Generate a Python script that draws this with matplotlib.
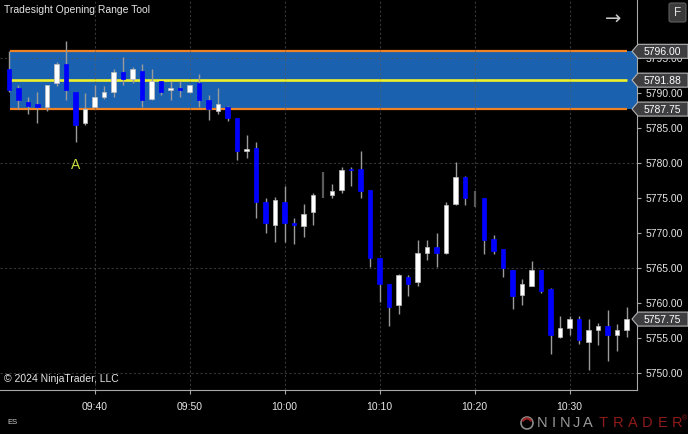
import numpy as np
import pandas as pd
import matplotlib
matplotlib.use('Agg')
import matplotlib.pyplot as plt
from matplotlib.patches import Polygon, FancyBboxPatch, Circle, Arc

plt.rcParams['font.family'] = ['Liberation Sans', 'DejaVu Sans']

# ── Data: 1-minute ES bars, 09:31 .. 10:36 ────────────────────────────────────
opens = [5793.5, 5790.75, 5788.75, 5788.5, 5788.0, 5791.5, 5794.25, 5790.25, 5785.75, 5788.0,
         5789.5, 5790.25, 5793.0, 5792.0, 5793.25, 5789.25, 5791.75, 5790.5, 5790.75, 5790.25,
         5791.5, 5789.0, 5787.5, 5788.0, 5786.5, 5781.75, 5782.25, 5774.5, 5771.25, 5774.5,
         5771.5, 5771.0, 5773.0, 5777.0, 5775.5, 5776.25, 5779.25, 5779.25, 5776.25, 5766.5,
         5762.75, 5759.75, 5763.75, 5763.0, 5767.25, 5768.0, 5767.25, 5774.25, 5778.0, 5775.0,
         5775.0, 5769.25, 5767.75, 5764.75, 5761.25, 5762.5, 5764.75, 5762.0, 5755.25, 5756.5,
         5757.75, 5754.5, 5756.25, 5756.75, 5755.5, 5756.25]
highs = [5796.0, 5791.25, 5789.5, 5790.25, 5791.25, 5794.5, 5797.5, 5790.25, 5790.0, 5791.25,
         5791.0, 5793.5, 5795.25, 5793.75, 5794.25, 5793.5, 5791.75, 5791.75, 5791.75, 5791.25,
         5792.75, 5789.75, 5790.75, 5788.25, 5786.5, 5784.0, 5783.0, 5775.0, 5775.25, 5776.75,
         5772.25, 5774.25, 5775.75, 5778.75, 5777.0, 5779.5, 5779.5, 5781.75, 5776.25, 5766.5,
         5762.75, 5764.25, 5764.0, 5769.0, 5769.0, 5770.0, 5774.5, 5780.25, 5778.25, 5776.0,
         5775.0, 5769.75, 5767.75, 5764.75, 5763.5, 5766.0, 5764.75, 5762.25, 5758.25, 5758.25,
         5758.25, 5757.75, 5757.25, 5759.0, 5757.0, 5759.5]
lows = [5790.25, 5787.75, 5787.0, 5785.75, 5787.5, 5791.0, 5789.0, 5783.0, 5785.5, 5788.0,
        5789.25, 5789.5, 5791.25, 5791.5, 5788.0, 5789.0, 5789.75, 5789.0, 5789.5, 5790.0,
        5788.0, 5786.25, 5787.0, 5786.0, 5780.5, 5780.75, 5772.25, 5770.0, 5768.75, 5768.75,
        5768.5, 5769.5, 5771.25, 5775.0, 5775.0, 5775.75, 5776.75, 5775.0, 5765.25, 5760.25,
        5756.75, 5758.5, 5761.0, 5762.5, 5766.25, 5765.25, 5767.0, 5774.0, 5774.0, 5773.75,
        5767.0, 5767.0, 5763.75, 5759.25, 5759.75, 5762.5, 5761.5, 5752.75, 5755.0, 5755.5,
        5754.25, 5750.5, 5754.0, 5751.75, 5753.25, 5755.25]
closes = [5790.5, 5789.0, 5788.25, 5788.0, 5791.25, 5794.25, 5790.5, 5785.5, 5787.75, 5789.5,
          5790.25, 5793.0, 5792.0, 5793.5, 5789.0, 5791.75, 5790.25, 5790.75, 5790.5, 5791.25,
          5789.0, 5787.75, 5788.5, 5786.5, 5781.75, 5782.0, 5774.5, 5771.5, 5774.75, 5771.5,
          5771.25, 5772.75, 5775.5, 5777.0, 5776.0, 5779.0, 5779.0, 5776.0, 5766.5, 5762.75,
          5759.5, 5764.0, 5762.75, 5767.25, 5768.0, 5767.25, 5774.0, 5778.0, 5775.0, 5775.0,
          5769.0, 5767.5, 5765.0, 5761.0, 5762.75, 5764.75, 5761.75, 5755.5, 5756.5, 5757.75,
          5754.75, 5756.25, 5756.75, 5755.5, 5756.25, 5757.75]

OR_HIGH, OR_MID, OR_LOW = 5796.00, 5791.88, 5787.75
LAST_PRICE = closes[-1]
SIGNAL_BAR, SIGNAL_TEXT = 7, 'A'
Y_TICKS = [5750, 5755, 5760, 5765, 5770, 5775, 5780, 5785, 5790, 5795]
GRID_PRICES = [5750, 5765, 5780, 5795]

bar_times = pd.date_range('2024-01-02 09:31', periods=len(opens), freq='min')
xt = [i for i, t in enumerate(bar_times) if t.minute % 10 == 0]
xt_labels = [bar_times[i].strftime('%H:%M') for i in xt]

# ── Style ─────────────────────────────────────────────────────────────────────
BG       = 'black'
UP       = 'white'
DOWN     = '#0000FF'
WICK     = '#9A9A9A'
BOX      = '#1A62B0'
ORANGE   = '#F08224'
YELLOW   = '#EEF02A'
TXT      = '#E6E6E6'
AXIS     = '#A8A8A8'

W, H = 688, 434
fig = plt.figure(figsize=(W/100, H/100), dpi=100, facecolor=BG)
ax = fig.add_axes([0, 44/H, 637/W, 390/H], facecolor=BG)
ax.set_xlim(-0.947, 66.1)
ax.set_ylim(5747.62, 5803.33)

# ── Opening range box ─────────────────────────────────────────────────────────
ax.fill_between([0.1, 66.1], OR_LOW, OR_HIGH, color=BOX, lw=0, zorder=1)
ax.hlines([OR_HIGH, OR_LOW], 0.1, len(opens) - 1, color=ORANGE, lw=1.6, zorder=2)
ax.hlines(OR_MID, 0.1, len(opens) - 1, color=YELLOW, lw=1.9, zorder=2)

# ── Grid ──────────────────────────────────────────────────────────────────────
for x in xt:
    ax.axvline(x, color='#5A5A5A', alpha=0.6, lw=0.8, ls=(0, (2, 2)), zorder=2.5)
for p in GRID_PRICES:
    ax.axhline(p, color='#5A5A5A', alpha=0.6, lw=0.8, ls=(0, (2, 2)), zorder=2.5)

# ── Candles ───────────────────────────────────────────────────────────────────
for i, (o, h, l, c) in enumerate(zip(opens, highs, lows, closes)):
    if o == c:
        ax.vlines(i, l, h, color='#5A5A5A', lw=1.6, zorder=3)
        continue
    ax.vlines(i, l, h, color=WICK, lw=1.0, zorder=3)
    up = c > o
    ax.bar(i, abs(c - o), bottom=min(o, c), width=0.5,
           color=UP if up else DOWN, edgecolor='#BDBDBD' if up else DOWN,
           lw=0.5, zorder=4)

ax.text(SIGNAL_BAR, lows[SIGNAL_BAR] - 3.25, SIGNAL_TEXT, color='#C8E03C',
        fontsize=10, ha='center', va='center', zorder=5)

# ── Axes ──────────────────────────────────────────────────────────────────────
for s in ['top', 'left']:
    ax.spines[s].set_visible(False)
for s in ['right', 'bottom']:
    ax.spines[s].set_color(AXIS); ax.spines[s].set_linewidth(0.8)
ax.yaxis.tick_right()
ax.set_yticks(Y_TICKS)
ax.set_yticklabels([f'{v:.2f}' for v in Y_TICKS])
ax.set_xticks(xt)
ax.set_xticklabels(xt_labels)
ax.tick_params(axis='y', colors=AXIS, labelcolor=TXT, length=3, width=0.8, pad=3, labelsize=7.5)
ax.tick_params(axis='x', colors=AXIS, labelcolor=TXT, length=3, width=0.8, pad=6, labelsize=7.5)

# ── Overlay (pixel coords) ────────────────────────────────────────────────────
ov = fig.add_axes([0, 0, 1, 1], facecolor='none')
ov.set_zorder(5)
ov.set_xlim(0, W); ov.set_ylim(H, 0); ov.axis('off')

def py(price):
    return H - ax.transData.transform((0, price))[1]

for price, label in [(OR_HIGH, f'{OR_HIGH:.2f}'), (OR_MID, f'{OR_MID:.2f}'),
                     (OR_LOW, f'{OR_LOW:.2f}'), (LAST_PRICE, f'{LAST_PRICE:.2f}')]:
    y = py(price)
    ov.add_patch(Polygon([(632, y), (638, y - 7), (688, y - 7), (688, y + 7), (638, y + 7)],
                         closed=True, facecolor='#3E3E40', edgecolor='#B4B4B4', lw=0.8))
    ov.text(644, y + 0.5, label, color='white', fontsize=7.5, ha='left', va='center')

ov.text(4, 10, 'Tradesight Opening Range Tool', color=TXT, fontsize=7.5, ha='left', va='center')
ov.text(4, 379, '© 2024 NinjaTrader, LLC', color=TXT, fontsize=7.5, ha='left', va='center')
ov.text(7, 423, 'ES', color='#CFCFCF', fontsize=5.5, ha='left', va='center')
ov.text(613, 19, '→', color='#C8C8C8', fontsize=14, ha='center', va='center', family='DejaVu Sans')
ov.add_patch(FancyBboxPatch((669, 3), 17, 19, boxstyle='round,pad=0,rounding_size=2',
                            facecolor='#3A3A3A', edgecolor='#5E5E5E', lw=0.8))
ov.text(677.5, 12.5, 'F', color='#E0E0E0', fontsize=8.5, ha='center', va='center')

# NinjaTrader logo
ov.add_patch(Circle((527, 423), 6, facecolor='none', edgecolor='#8A8A8A', lw=1.2))
ov.add_patch(Arc((527, 423), 9, 9, theta1=200, theta2=340, color='#9B2323', lw=1.6))
for k, ch in enumerate('NINJA'):
    ov.text(542 + k * 11.5, 423, ch, color='#9A9A9A', fontsize=10.5, ha='center', va='center')
for k, ch in enumerate('TRADER'):
    ov.text(603 + k * 14.8, 423, ch, color='#8E1B1B', fontsize=10.5, ha='center', va='center')
ov.text(685, 419, '®', color='#8E1B1B', fontsize=5, ha='center', va='center')

fig.savefig('out.png', dpi=100, facecolor=BG)
